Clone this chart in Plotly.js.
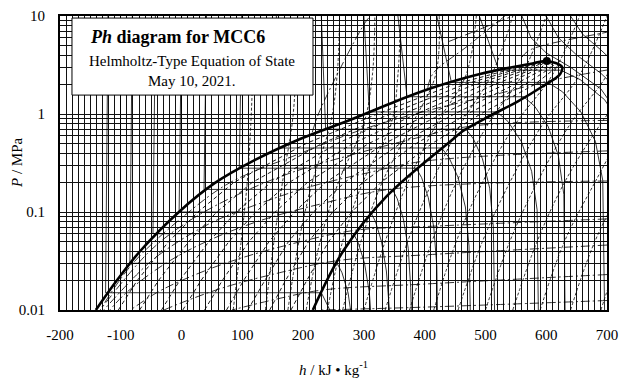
<!DOCTYPE html>
<html>
<head>
<meta charset="utf-8">
<script src="https://cdn.plot.ly/plotly-3.0.1.min.js"></script>
<style>html,body{margin:0;padding:0;background:#fff;}#chart{width:621px;height:380px;}</style>
</head>
<body>
<div id="chart"></div>
<script>
// ---- Saturation dome ----
const liqH = [-141, -106, -68, -3, 55, 121, 195, 277, 354, 409, 491, 573, 600];
const liqP = [0.01, 0.0202, 0.040, 0.102, 0.198, 0.340, 0.556, 0.869, 1.358, 1.82, 2.56, 3.24, 3.47];
const vapH = [600, 626, 623, 595, 552, 507, 463, 447, 338, 266, 216];
const vapP = [3.47, 3.02, 2.56, 1.93, 1.33, 0.954, 0.671, 0.556, 0.146, 0.040, 0.01];
const critH = [601];
const critP = [3.47];

// ---- Quality lines x = 0.1 ... 0.9 ----
const qualP = [0.01, 0.02, 0.05, 0.1, 0.2, 0.5, 1, 2, 3, 3.47];
const qual01 = [-104, -73, -21, 27, 86, 205, 322, 448, 554, 600];
const qual02 = [-69, -38, 12, 58, 116, 231, 343, 465, 562, 600];
const qual03 = [-33, -3, 45, 90, 147, 256, 364, 482, 570, 600];
const qual04 = [2, 32, 78, 122, 177, 282, 386, 498, 578, 600];
const qual05 = [38, 67, 111, 154, 207, 308, 407, 515, 586, 600];
const qual06 = [74, 102, 144, 186, 237, 334, 428, 532, 593, 600];
const qual07 = [109, 137, 176, 217, 268, 360, 449, 548, 601, 600];
const qual08 = [145, 171, 209, 249, 298, 386, 470, 565, 609, 600];
const qual09 = [180, 206, 242, 280, 328, 412, 492, 581, 617, 600];

// ---- Isotherms (h, P) ----
const isoT01H = [-121, -125, 230, 238, 244];            const isoT01P = [10, 0.015, 0.015, 0.012, 0.01];
const isoT02H = [-81, -85, 256, 264, 274, 278];          const isoT02P = [10, 0.03, 0.03, 0.024, 0.015, 0.01];
const isoT03H = [-43, -47, 283, 291, 301, 309, 311];     const isoT03P = [10, 0.06, 0.06, 0.048, 0.03, 0.015, 0.01];
const isoT04H = [0, -4, 311, 319, 329, 337, 342];        const isoT04P = [10, 0.1, 0.1, 0.08, 0.05, 0.025, 0.01];
const isoT05H = [41, 37, 347, 355, 365, 373, 377, 378];  const isoT05P = [10, 0.17, 0.17, 0.136, 0.085, 0.0425, 0.017, 0.01];
const isoT06H = [99, 95, 386, 395, 406, 415, 420, 421];  const isoT06P = [10, 0.28, 0.28, 0.224, 0.14, 0.07, 0.028, 0.01];
const isoT07H = [156, 161, 428, 440, 455, 467, 473, 475]; const isoT07P = [10, 0.45, 0.45, 0.36, 0.225, 0.1125, 0.045, 0.01];
const isoT08H = [230, 237, 468, 480, 495, 507, 513, 515]; const isoT08P = [10, 0.7, 0.7, 0.56, 0.35, 0.175, 0.07, 0.01];
const isoT09H = [300, 309, 519, 537, 559, 576, 585, 587]; const isoT09P = [10, 1.05, 1.05, 0.84, 0.525, 0.26, 0.105, 0.01];
const isoT10H = [356, 371, 563, 581, 603, 620, 629, 631]; const isoT10P = [10, 1.5, 1.5, 1.2, 0.75, 0.375, 0.15, 0.01];
const isoT11H = [420, 444, 603, 627, 657, 681, 693, 696]; const isoT11P = [10, 2.1, 2.1, 1.68, 1.05, 0.525, 0.21, 0.01];
const isoT12H = [490, 522, 624, 656, 696, 728, 744, 748]; const isoT12P = [10, 2.8, 2.8, 2.24, 1.4, 0.7, 0.28, 0.01];
const isoT13H = [560, 575, 600, 640, 690, 730];           const isoT13P = [10, 6, 4.2, 3.0, 1.8, 0.8];
const isoT14H = [600, 620, 650, 690, 730];                const isoT14P = [10, 6, 4, 2.6, 1.5];
const isoT15H = [640, 660, 690, 720];                     const isoT15P = [10, 6.5, 4.5, 3];

// ---- Isentropes ----
const sP = [0.01, 0.05, 0.2, 0.8, 2.5, 10];
const s01 = [85, 98, 108, 114, 117, 119];
const s02 = [138, 152, 166, 182, 188, 191];
const s03 = [175, 193, 215, 245, 256, 260];
const s04 = [205, 228, 258, 300, 314, 318];
const s05 = [240, 265, 298, 345, 356, 360];
const s06 = [265, 295, 330, 380, 418, 424];
const s07 = [300, 335, 372, 420, 468, 485];
const s08 = [335, 372, 412, 460, 510, 545];
const s09 = [375, 412, 452, 505, 560, 600];
const s10 = [415, 452, 495, 550, 610, 655];
const s11 = [455, 495, 540, 595, 655, 700];
const s12 = [500, 540, 585, 640, 700, 745];
const s13 = [545, 585, 630, 690, 750, 800];
const s14 = [590, 630, 680, 735, 800, 850];
const s15 = [640, 680, 730, 790, 850, 900];
const s16 = [690, 730, 780, 840, 900, 950];

// ---- Isochores ----
const v01H = [700, 400, 230];                         const v01P = [0.0125, 0.0107, 0.0100];
const v02H = [700, 400, 232, 158, 83];                const v02P = [0.023, 0.0184, 0.016, 0.013, 0.01];
const v03H = [700, 400, 258, 161, 70, 2, -29];        const v03P = [0.046, 0.0365, 0.032, 0.024, 0.017, 0.012, 0.01];
const v04H = [700, 400, 285, 168, 72, 0, -41, -84];   const v04P = [0.085, 0.071, 0.065, 0.045, 0.03, 0.02, 0.015, 0.01];
const v05H = [700, 348, 227, 125, 41, -26, -91, -118]; const v05P = [0.207, 0.172, 0.12, 0.08, 0.05, 0.03, 0.015, 0.01];
const v06H = [700, 399, 305, 210, 125, 53, -5, -54, -128]; const v06P = [0.42, 0.33, 0.25, 0.18, 0.12, 0.08, 0.05, 0.03, 0.01];
const v07H = [700, 475, 377, 291, 179, 92, 11, -52, -134]; const v07P = [0.86, 0.75, 0.55, 0.4, 0.25, 0.15, 0.08, 0.04, 0.01];
const v08H = [700, 608, 519, 409, 299, 197, 80, 12, -80, -134]; const v08P = [2.81, 2.2, 1.6, 1.1, 0.7, 0.4, 0.2, 0.1, 0.03, 0.01];
const vL1H = [215, 228, 305, 312];  const vL1P = [0.65, 1.1, 9.1, 10];
const vL2H = [405, 414, 470, 532];  const vL2P = [1.85, 2.6, 4.9, 10];
const vL3H = [560, 573, 693, 710];  const vL3P = [3.8, 4.5, 6.7, 7];
const vL4H = [440, 475, 545];       const vL4P = [5.5, 6.7, 10];

// ---- Axis ticks ----
const xTickVals = [-200, -100, 0, 100, 200, 300, 400, 500, 600, 700];
const xTickText = ['-200', '-100', '0', '100', '200', '300', '400', '500', '600', '700'];
const yTickVals = [0.01,0.02,0.03,0.04,0.05,0.06,0.07,0.08,0.09,
                   0.1,0.2,0.3,0.4,0.5,0.6,0.7,0.8,0.9,
                   1,2,3,4,5,6,7,8,9,10];
const yTickText = ['0.01',' ',' ',' ',' ',' ',' ',' ',' ',
                   '0.1',' ',' ',' ',' ',' ',' ',' ',' ',
                   '1',' ',' ',' ',' ',' ',' ',' ',' ','10'];

const FONT = 'Liberation Serif, Times New Roman, serif';
const traces = [];
function line(h, p, style) {
  traces.push({type: 'scatter', mode: 'lines', x: h, y: p, hoverinfo: 'skip',
               showlegend: false, line: style});
}
const qStyle = {color: '#000', width: 0.9, dash: '4px,3px'};
[qual01, qual02, qual03, qual04, qual05, qual06, qual07, qual08, qual09].forEach(q => line(q, qualP, qStyle));

[[isoT01H, isoT01P], [isoT02H, isoT02P], [isoT03H, isoT03P], [isoT04H, isoT04P], [isoT05H, isoT05P],
 [isoT06H, isoT06P], [isoT07H, isoT07P], [isoT08H, isoT08P], [isoT09H, isoT09P], [isoT10H, isoT10P],
 [isoT11H, isoT11P], [isoT12H, isoT12P], [isoT13H, isoT13P], [isoT14H, isoT14P], [isoT15H, isoT15P]]
 .forEach(t => line(t[0], t[1], {color: '#000', width: 0.8}));

const sStyle = {color: '#000', width: 0.8, dash: '3px,2px', shape: 'spline'};
[s01, s02, s03, s04, s05, s06, s07, s08, s09, s10, s11, s12, s13, s14, s15, s16].forEach(s => line(s, sP, sStyle));

const vStyle = {color: '#000', width: 0.8, dash: '9px,3px,2px,3px', shape: 'spline'};
[[v01H, v01P], [v02H, v02P], [v03H, v03P], [v04H, v04P], [v05H, v05P], [v06H, v06P], [v07H, v07P],
 [v08H, v08P], [vL1H, vL1P], [vL2H, vL2P], [vL3H, vL3P], [vL4H, vL4P]].forEach(v => line(v[0], v[1], vStyle));

// saturation dome
line(liqH.concat(vapH.slice(1)), liqP.concat(vapP.slice(1)),
     {color: '#000', width: 2.6, shape: 'spline', smoothing: 1.0});
traces.push({type: 'scatter', mode: 'markers', x: critH, y: critP, hoverinfo: 'skip', showlegend: false,
             marker: {color: '#000', size: 8}});

const layout = {
  width: 621, height: 380,
  margin: {l: 60, r: 14, t: 16, b: 70},
  paper_bgcolor: '#fff', plot_bgcolor: '#fff',
  font: {family: FONT, size: 15, color: '#000'},
  showlegend: false,
  xaxis: {
    range: [-200, 700], tickmode: 'array', tickvals: xTickVals, ticktext: xTickText,
    showgrid: true, gridcolor: '#000', gridwidth: 1,
    minor: {tickmode: 'linear', tick0: -200, dtick: 10, showgrid: true, gridcolor: '#111', gridwidth: 1, ticks: ''},
    ticks: '', showline: true, linecolor: '#000', linewidth: 2, mirror: true, zeroline: false,
    ticklabelstandoff: 10,
    tickfont: {family: FONT, size: 15, color: '#000'},
    title: {text: '<i>h</i> / kJ \u2022 kg<sup>-1</sup>', font: {family: FONT, size: 15, color: '#000'}, standoff: 22}
  },
  yaxis: {
    type: 'log', range: [-2, 1], tickmode: 'array', tickvals: yTickVals, ticktext: yTickText,
    showgrid: true, gridcolor: '#111', gridwidth: 1,
    ticks: '', showline: true, linecolor: '#000', linewidth: 2, mirror: true, zeroline: false,
    ticklabelstandoff: 10,
    tickfont: {family: FONT, size: 15, color: '#000'}
  },
  shapes: [{type: 'rect', xref: 'paper', yref: 'paper', x0: 0.0219, x1: 0.4625, y0: 0.731, y1: 0.993,
            fillcolor: '#fff', line: {color: '#000', width: 1}, layer: 'above'}],
  annotations: [
    {xref: 'paper', yref: 'paper', x: -0.0786, y: 0.5, showarrow: false, xanchor: 'center', yanchor: 'middle',
     textangle: -90, text: '<i>P</i> / MPa', font: {family: FONT, size: 15, color: '#000'}},
    {xref: 'paper', yref: 'paper', x: 0.2157, y: 0.9286, showarrow: false, xanchor: 'center', yanchor: 'middle',
     text: '<b><i>Ph</i> diagram for MCC6</b>', font: {family: FONT, size: 18, color: '#000'}},
    {xref: 'paper', yref: 'paper', x: 0.2413, y: 0.847, showarrow: false, xanchor: 'center', yanchor: 'middle',
     text: 'Helmholtz-Type Equation of State', font: {family: FONT, size: 15, color: '#000'}},
    {xref: 'paper', yref: 'paper', x: 0.2413, y: 0.779, showarrow: false, xanchor: 'center', yanchor: 'middle',
     text: 'May 10, 2021.', font: {family: FONT, size: 15, color: '#000'}}
  ]
};
Plotly.newPlot('chart', traces, layout, {displayModeBar: false, staticPlot: true});
</script>
</body>
</html>
